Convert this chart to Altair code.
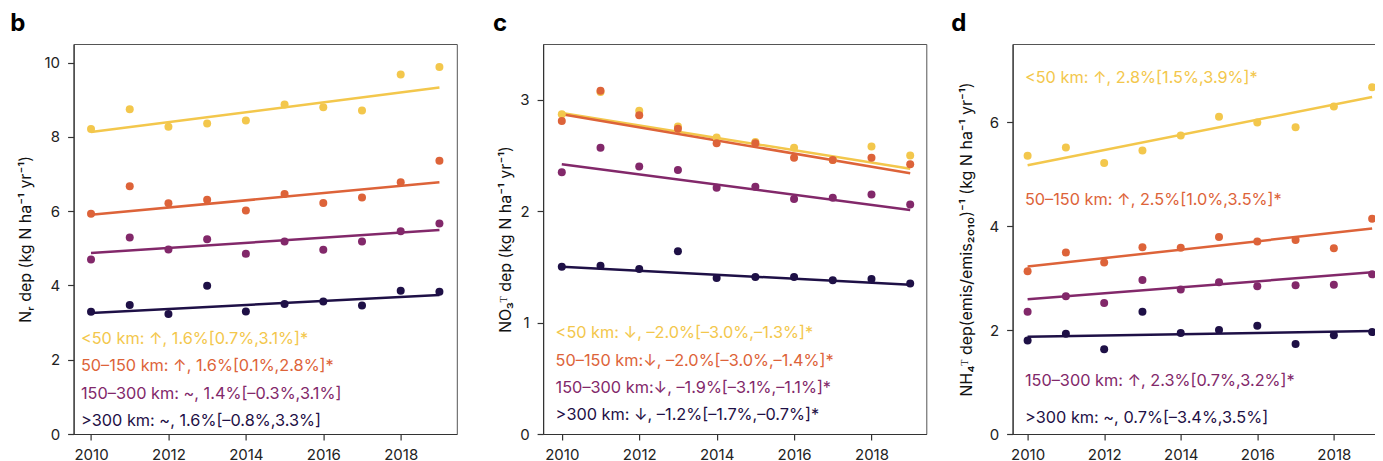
import altair as alt
import pandas as pd

years = [2010, 2011, 2012, 2013, 2014, 2015, 2016, 2017, 2018, 2019]
groups = ["<50 km", "50–150 km", "150–300 km", ">300 km"]
colors = ["#F3C74C", "#DD6339", "#82286A", "#1E1046"]

# Panel b: Nr deposition
b_lt50 = [8.21, 8.74, 8.27, 8.36, 8.44, 8.87, 8.80, 8.71, 9.68, 9.88]
b_50_150 = [5.93, 6.67, 6.21, 6.31, 6.02, 6.46, 6.22, 6.37, 6.78, 7.36]
b_150_300 = [4.70, 5.29, 4.97, 5.24, 4.85, 5.18, 4.96, 5.18, 5.46, 5.67]
b_gt300 = [3.29, 3.47, 3.23, 3.99, 3.30, 3.50, 3.57, 3.46, 3.86, 3.83]
b_trend_2010 = [8.13, 5.90, 4.87, 3.26]
b_trend_2019 = [9.33, 6.78, 5.49, 3.74]
b_labels = ["<50 km: ↑, 1.6%[0.7%,3.1%]*",
            "50–150 km: ↑, 1.6%[0.1%,2.8%]*",
            "150–300 km: ~, 1.4%[–0.3%,3.1%]",
            ">300 km: ~, 1.6%[–0.8%,3.3%]"]

# Panel c: NO3 deposition
c_lt50 = [2.87, 3.07, 2.90, 2.76, 2.66, 2.62, 2.57, 2.46, 2.58, 2.50]
c_50_150 = [2.81, 3.08, 2.86, 2.74, 2.61, 2.61, 2.48, 2.46, 2.48, 2.42]
c_150_300 = [2.35, 2.57, 2.40, 2.37, 2.21, 2.22, 2.11, 2.12, 2.15, 2.06]
c_gt300 = [1.50, 1.51, 1.48, 1.64, 1.40, 1.41, 1.41, 1.38, 1.39, 1.35]
c_trend_2010 = [2.88, 2.87, 2.42, 1.50]
c_trend_2019 = [2.38, 2.34, 2.01, 1.34]
c_labels = ["<50 km: ↓, –2.0%[–3.0%,–1.3%]*",
            "50–150 km:↓, –2.0%[–3.0%,–1.4%]*",
            "150–300 km:↓, –1.9%[–3.1%,–1.1%]*",
            ">300 km: ↓, –1.2%[–1.7%,–0.7%]*"]

# Panel d: NH4 deposition (emission-normalised)
d_lt50 = [5.35, 5.51, 5.21, 5.45, 5.74, 6.10, 5.99, 5.90, 6.30, 6.67]
d_50_150 = [3.13, 3.49, 3.30, 3.59, 3.58, 3.79, 3.70, 3.73, 3.57, 4.14]
d_150_300 = [2.35, 2.65, 2.52, 2.96, 2.78, 2.92, 2.84, 2.86, 2.87, 3.07]
d_gt300 = [1.80, 1.93, 1.63, 2.35, 1.94, 2.00, 2.08, 1.73, 1.90, 1.96]
d_trend_2010 = [5.17, 3.22, 2.59, 1.87]
d_trend_2019 = [6.48, 3.95, 3.11, 1.98]
d_labels = ["<50 km: ↑, 2.8%[1.5%,3.9%]*",
            "50–150 km: ↑, 2.5%[1.0%,3.5%]*",
            "150–300 km: ↑, 2.3%[0.7%,3.2%]*",
            ">300 km: ~, 0.7%[–3.4%,3.5%]"]

x_ticks = [2010, 2012, 2014, 2016, 2018]
FONT = "Inter"
W, H = 383.2, 390


def panel(letter, letter_dx, x0, span, series, t0, t1, labels, label_x,
          label_y, ymax, yticks, ytitle, title_x):
    pts = pd.DataFrame([
        {"group": g, "year": yr, "value": v}
        for g, vals in zip(groups, series)
        for yr, v in zip(years, vals)
    ])
    trend = pd.DataFrame([
        {"group": g, "year": yr, "value": v}
        for g, a, b in zip(groups, t0, t1)
        for yr, v in ((years[0], a), (years[-1], b))
    ])
    labs = pd.DataFrame({"group": groups, "label": labels,
                         "year": [label_x] * 4, "value": label_y})

    xscale = alt.Scale(domain=[x0, x0 + span], nice=False, zero=False)
    yscale = alt.Scale(domain=[0, ymax], nice=False, zero=True)
    color = alt.Color("group:N", scale=alt.Scale(domain=groups, range=colors),
                      legend=None)
    xaxis = alt.Axis(values=x_ticks, format="d", title=None, grid=False,
                     labelPadding=7, tickSize=6, labelFlush=False)
    yaxis = alt.Axis(values=yticks, title=ytitle, grid=False, tickSize=6,
                     labelPadding=8, titleX=title_x, titleY=H / 2,
                     titleAngle=-90, titleAlign="center",
                     titleBaseline="alphabetic")

    x = alt.X("year:Q", scale=xscale, axis=xaxis)
    y = alt.Y("value:Q", scale=yscale, axis=yaxis)

    lines = alt.Chart(trend).mark_line(strokeWidth=2.5).encode(
        x=x, y=y, color=color)
    points = alt.Chart(pts).mark_circle(size=64, opacity=1).encode(
        x=x, y=y, color=color)
    text = alt.Chart(labs).mark_text(align="left", baseline="middle",
                                     fontSize=16.3, font=FONT).encode(
        x=x, y=y, text="label:N", color=color)
    let = alt.Chart(pd.DataFrame({"t": [letter]})).mark_text(
        align="left", baseline="top", fontSize=24, fontWeight="bold",
        font=FONT, color="black"
    ).encode(x=alt.value(letter_dx), y=alt.value(-32), text="t:N")

    return alt.layer(lines, points, text, let).properties(width=W, height=H)


pb = panel("b", -63.3, 2009.55, 9.899, [b_lt50, b_50_150, b_150_300, b_gt300],
           b_trend_2010, b_trend_2019, b_labels, 2009.74,
           [2.56, 1.83, 1.08, 0.35], 10.5, [0, 2, 4, 6, 8, 10],
           "Nᵣ dep (kg N ha⁻¹ yr⁻¹)", -43.6)
pc = panel("c", -50.0, 2009.517, 9.899, [c_lt50, c_50_150, c_150_300, c_gt300],
           c_trend_2010, c_trend_2019, c_labels, 2009.84,
           [0.908, 0.656, 0.414, 0.171], 3.5, [0, 1, 2, 3],
           "NO₃ᵀ dep (kg N ha⁻¹ yr⁻¹)", -32.3)
pd_ = panel("d", -61.3, 2009.608, 10.01, [d_lt50, d_50_150, d_150_300, d_gt300],
            d_trend_2010, d_trend_2019, d_labels, 2009.93,
            [6.85, 4.50, 1.02, 0.31], 7.5, [0, 2, 4, 6],
            "NH₄ᵀ dep(emis/emis₂₀₁₀)⁻¹ (kg N ha⁻¹ yr⁻¹)", -41.0)

PAD_L, PAD_T, TOTAL_W, TOTAL_H = 65.6, 36, 1367, 458

chart = alt.hconcat(pb, pc, pd_, spacing=85.5, bounds="flush").properties(
    autosize=alt.AutoSizeParams(type="none"),
    padding={"left": PAD_L, "top": PAD_T,
             "right": TOTAL_W - PAD_L, "bottom": TOTAL_H - PAD_T},
).configure_view(
    stroke="#555", strokeWidth=1
).configure_axis(
    labelFont=FONT, labelFontSize=15, labelColor="#222",
    tickColor="#333", domainColor="#333", domainWidth=1.2, tickWidth=1.2,
    titleFont=FONT, titleFontSize=16, titleFontWeight="normal",
    titleColor="#111",
)

chart.save("out.html", embed_options={"renderer": "svg", "actions": False})
